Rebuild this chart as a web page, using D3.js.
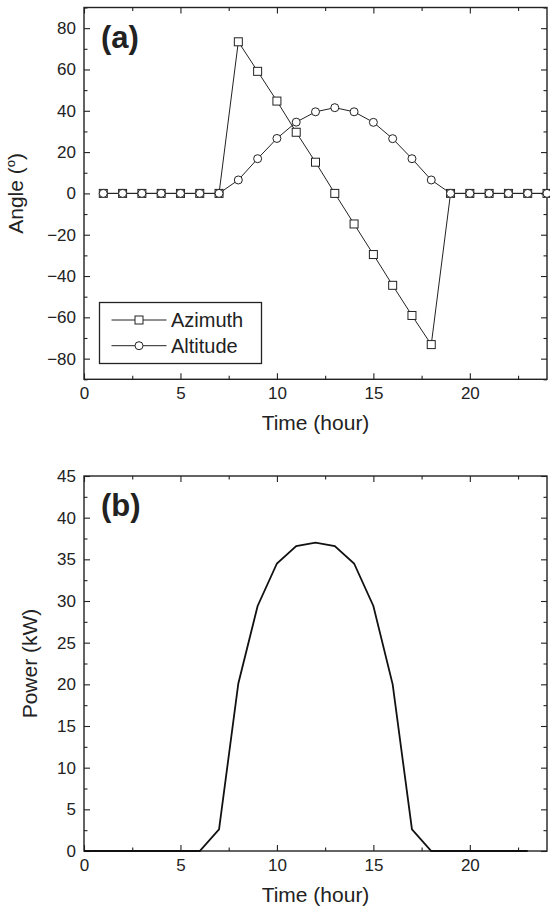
<!DOCTYPE html>
<html><head><meta charset="utf-8">
<script src="https://cdn.jsdelivr.net/npm/d3@7"></script>
<style>
html,body{margin:0;padding:0;background:#fff;}
svg{display:block;font-family:"Liberation Sans",Arial,sans-serif;}
</style></head>
<body>
<svg id="chart" width="550" height="907"></svg>
<script>
// ---- data ----
const hoursA = [1,2,3,4,5,6,7,8,9,10,11,12,13,14,15,16,17,18,19,20,21,22,23,24];
const azimuth = [0,0,0,0,0,0,0,73.4,59.1,44.7,29.6,15.1,0,-14.8,-29.6,-44.5,-59.1,-73.2,0,0,0,0,0,0];
const altitude = [0,0,0,0,0,0,0,6.5,16.8,26.6,34.5,39.5,41.5,39.5,34.4,26.5,16.8,6.5,0,0,0,0,0,0];
const hoursP = [0,1,2,3,4,5,6,7,8,9,10,11,12,13,14,15,16,17,18,19,20,21,22,23];
const power = [0,0,0,0,0,0,0,2.6,20.1,29.4,34.5,36.6,37.0,36.6,34.5,29.4,20.0,2.6,0,0,0,0,0,0];
const xTicks = [0,5,10,15,20];
const xMinor = [2.5,7.5,12.5,17.5,22.5];
const angleTicks = [-80,-60,-40,-20,0,20,40,60,80];
const angleMinor = [-90,-70,-50,-30,-10,10,30,50,70,90];
const powerTicks = [0,5,10,15,20,25,30,35,40,45];
const powerMinor = [2.5,7.5,12.5,17.5,22.5,27.5,32.5,37.5,42.5];
const seriesNames = ["Azimuth","Altitude"];

const svg = d3.select("#chart");
const ink = "#222";
const L = 84, R = 547;

function panel(top, bottom, yDomain, yTicks, yMinor, label) {
  const x = d3.scaleLinear().domain([0,24]).range([L,R]);
  const y = d3.scaleLinear().domain(yDomain).range([bottom, top]);
  const g = svg.append("g");
  const mk = (axis, vals, tr) => {
    const a = g.append("g").attr("transform", tr)
      .call(axis.tickValues(vals).tickSize(-3.5).tickFormat(""));
    a.select(".domain").remove();
    a.selectAll("line").attr("stroke", ink).attr("stroke-width",1.1);
  };
  mk(d3.axisBottom(x), xMinor, `translate(0,${bottom})`);
  mk(d3.axisTop(x), xMinor, `translate(0,${top})`);
  mk(d3.axisLeft(y), yMinor, `translate(${L},0)`);
  mk(d3.axisRight(y), yMinor, `translate(${R},0)`);
  const xb = g.append("g").attr("transform", `translate(0,${bottom})`)
    .call(d3.axisBottom(x).tickValues(xTicks).tickSize(-6).tickPadding(8).tickFormat(d3.format("d")));
  const xt = g.append("g").attr("transform", `translate(0,${top})`)
    .call(d3.axisTop(x).tickValues(xTicks).tickSize(-6).tickFormat(""));
  const yl = g.append("g").attr("transform", `translate(${L},0)`)
    .call(d3.axisLeft(y).tickValues(yTicks).tickSize(-6).tickPadding(8).tickFormat(d3.format("d")));
  const yr = g.append("g").attr("transform", `translate(${R},0)`)
    .call(d3.axisRight(y).tickValues(yTicks).tickSize(-6).tickFormat(""));
  [xb,xt,yl,yr].forEach(a => {
    a.select(".domain").remove();
    a.selectAll("line").attr("stroke", ink).attr("stroke-width",1.1);
    a.selectAll("text").attr("fill", ink).attr("font-size", 17)
      .attr("font-family", '"Liberation Sans",Arial,sans-serif');
  });
  g.append("rect").attr("x", L).attr("y", top).attr("width", R-L).attr("height", bottom-top)
    .attr("fill","none").attr("stroke", ink).attr("stroke-width", 1.4);
  g.append("text").attr("x", 101).attr("y", top + 40).text(label)
    .attr("font-size", 31).attr("font-weight","bold").attr("fill", ink);
  g.append("text").attr("x", (L+R)/2).attr("y", bottom + 51).attr("text-anchor","middle")
    .attr("font-size", 21).attr("fill", ink).text("Time (hour)");
  return {x, y, g};
}

// ---- panel (a) ----
const A = panel(7.5, 379.3, [-90,90], angleTicks, angleMinor, "(a)");
const yt = A.g.append("text").attr("transform", `translate(23,${(7.5+379.3)/2}) rotate(-90)`)
  .attr("text-anchor","middle").attr("font-size",21).attr("fill",ink);
yt.append("tspan").text("Angle (");
yt.append("tspan").text("o").attr("font-size",13).attr("dy",-8);
yt.append("tspan").text(")").attr("dy",8);

const lineA = d3.line().x((d,i)=>A.x(hoursA[i])).y(d=>A.y(d));
A.g.append("path").datum(azimuth).attr("d", lineA).attr("fill","none").attr("stroke",ink).attr("stroke-width",1);
A.g.append("path").datum(altitude).attr("d", lineA).attr("fill","none").attr("stroke",ink).attr("stroke-width",1);
A.g.selectAll("rect.sq").data(azimuth).join("rect").attr("class","sq")
  .attr("x",(d,i)=>A.x(hoursA[i])-4).attr("y",d=>A.y(d)-4).attr("width",8).attr("height",8)
  .attr("fill","#fff").attr("stroke",ink).attr("stroke-width",1);
A.g.selectAll("circle.ci").data(altitude).join("circle").attr("class","ci")
  .attr("cx",(d,i)=>A.x(hoursA[i])).attr("cy",d=>A.y(d)).attr("r",4)
  .attr("fill","#fff").attr("stroke",ink).attr("stroke-width",1);

// legend
const lg = A.g.append("g");
lg.append("rect").attr("x",99.5).attr("y",302.5).attr("width",162).attr("height",61)
  .attr("fill","#fff").attr("stroke",ink).attr("stroke-width",1.3);
seriesNames.forEach((nm,i) => {
  const cy = 320 + i*25.7;
  lg.append("line").attr("x1",111.5).attr("x2",166.5).attr("y1",cy).attr("y2",cy).attr("stroke",ink).attr("stroke-width",1);
  if (i===0) lg.append("rect").attr("x",135).attr("y",cy-4).attr("width",8).attr("height",8).attr("fill","#fff").attr("stroke",ink);
  else lg.append("circle").attr("cx",139).attr("cy",cy).attr("r",4).attr("fill","#fff").attr("stroke",ink);
  lg.append("text").attr("x",171).attr("y",cy+7).attr("font-size",20).attr("fill",ink).text(nm);
});

// ---- panel (b) ----
const B = panel(476, 851, [0,45], powerTicks, powerMinor, "(b)");
B.g.append("text").attr("transform", `translate(37,${(476+851)/2}) rotate(-90)`)
  .attr("text-anchor","middle").attr("font-size",21).attr("fill",ink).text("Power (kW)");
const lineB = d3.line().x((d,i)=>B.x(hoursP[i])).y(d=>B.y(d));
B.g.append("path").datum(power).attr("d", lineB).attr("fill","none").attr("stroke","#111").attr("stroke-width",1.8)
  .attr("stroke-linejoin","miter");
</script>
</body></html>
